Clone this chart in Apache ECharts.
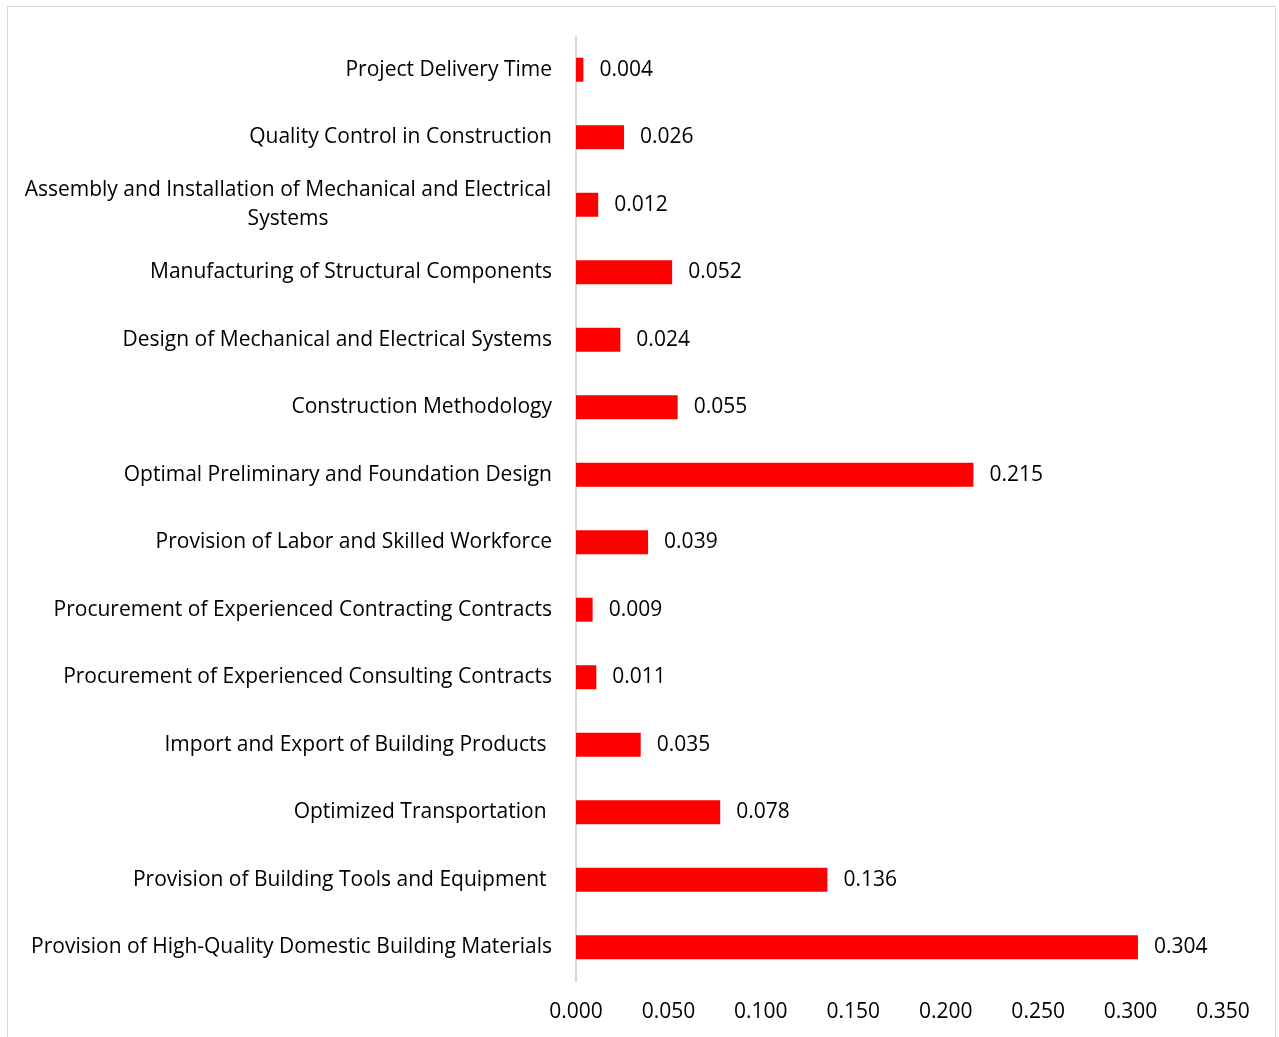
<!DOCTYPE html>
<html>
<head>
<meta charset="utf-8">
<script src="https://cdn.jsdelivr.net/npm/echarts@6/dist/echarts.min.js"></script>
<style>
  html, body { margin: 0; padding: 0; background: #fff; }
  body { width: 1279px; height: 1037px; position: relative; overflow: hidden; }
  #frame { position: absolute; left: 7px; top: 6px; width: 1269px; height: 1060px;
           border: 1px solid #d9d9d9; box-sizing: border-box; }
  #chart { position: absolute; left: 0; top: 0; width: 1279px; height: 1037px; }
</style>
</head>
<body>
<div id="frame"></div>
<div id="chart"></div>
<script>
// Factors, listed top to bottom
const categories = [
  'Project Delivery Time',
  'Quality Control in Construction',
  'Assembly and Installation of Mechanical and Electrical\nSystems',
  'Manufacturing of Structural Components',
  'Design of Mechanical and Electrical Systems',
  'Construction Methodology',
  'Optimal Preliminary and Foundation Design',
  'Provision of Labor and Skilled Workforce',
  'Procurement of Experienced Contracting Contracts',
  'Procurement of Experienced Consulting Contracts',
  'Import and Export of Building Products ',
  'Optimized Transportation ',
  'Provision of Building Tools and Equipment ',
  'Provision of High-Quality Domestic Building Materials'
];
const weights = [0.004, 0.026, 0.012, 0.052, 0.024, 0.055, 0.215, 0.039, 0.009, 0.011, 0.035, 0.078, 0.136, 0.304];
const axisMin = 0, axisMax = 0.35, axisStep = 0.05;

const FONT = 'Open Sans';
const FS = 21;
const chart = echarts.init(document.getElementById('chart'));
chart.setOption({
  animation: false,
  textStyle: { fontFamily: FONT },
  grid: { left: 576, right: 56, top: 36, bottom: 56, containLabel: false },
  xAxis: {
    type: 'value', min: axisMin, max: axisMax, interval: axisStep,
    axisLine: { show: false }, axisTick: { show: false }, splitLine: { show: false },
    axisLabel: { color: '#000', fontSize: FS, fontFamily: FONT, margin: 21,
                 formatter: v => v.toFixed(3) }
  },
  yAxis: {
    type: 'category', inverse: true, data: categories,
    axisLine: { show: true, lineStyle: { color: '#d9d9d9', width: 2 } },
    axisTick: { show: false },
    axisLabel: {
      color: '#000', fontSize: FS, fontFamily: FONT, margin: 24, lineHeight: 29,
      formatter: function (v) {
        if (v.indexOf('\n') >= 0) {
          return v.split('\n').map(s => '{c|' + s + '}').join('\n');
        }
        return v;
      },
      rich: { c: { width: 528, align: 'center', fontSize: FS, fontFamily: FONT, color: '#000', lineHeight: 29 } }
    }
  },
  series: [{
    type: 'bar', data: weights, barWidth: 24,
    itemStyle: { color: '#ff0000' },
    label: { show: true, position: 'right', distance: 16, color: '#000',
             fontSize: FS, fontFamily: FONT, formatter: p => p.value.toFixed(3) }
  }]
});
</script>
</body>
</html>
